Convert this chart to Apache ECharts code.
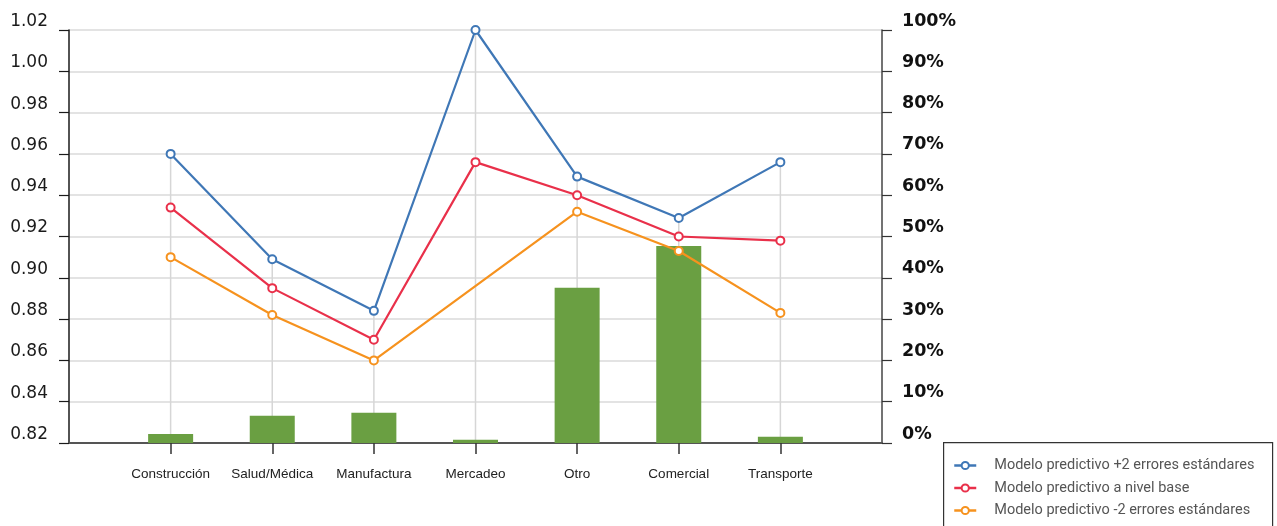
<!DOCTYPE html>
<html>
<head>
<meta charset="utf-8">
<script src="https://cdn.jsdelivr.net/npm/echarts@6/dist/echarts.min.js"></script>
<style>
  html, body { margin: 0; padding: 0; background: #ffffff; }
  #chart { width: 1277px; height: 526px; }
</style>
</head>
<body>
<div id="chart"></div>
<script>
// Sectors shown on the horizontal axis
const categories = ['Construcción', 'Salud/Médica', 'Manufactura', 'Mercadeo', 'Otro', 'Comercial', 'Transporte'];

// Model predictions (left axis)
const modeloMas2 = [0.960, 0.909, 0.884, 1.020, 0.949, 0.929, 0.956];
const modeloBase = [0.934, 0.895, 0.870, 0.956, 0.940, 0.920, 0.918];
const modeloMenos2 = [0.910, 0.882, 0.860, null, 0.932, 0.913, 0.883];

// Share per sector, in percent (right axis)
const participacion = [2.2, 6.6, 7.3, 0.8, 37.6, 47.7, 1.5];

// Axis ranges
const leftMin = 0.82, leftMax = 1.02, leftStep = 0.02;
const rightMin = 0, rightMax = 100, rightStep = 10;

const seriesNames = [
  'Modelo predictivo +2 errores estándares',
  'Modelo predictivo a nivel base',
  'Modelo predictivo -2 errores estándares'
];

// Empty slots at both ends keep the sectors off the vertical axes
const pad = arr => [null, ...arr, null];
const axisCats = ['', ...categories, ''];

const chart = echarts.init(document.getElementById('chart'), null, { renderer: 'canvas' });

const lineSeries = (name, data, color) => ({
  name,
  type: 'line',
  xAxisIndex: 0,
  yAxisIndex: 0,
  data: pad(data),
  connectNulls: true,
  symbol: 'emptyCircle',
  symbolSize: 8,
  lineStyle: { width: 2.2, color },
  itemStyle: { color, borderWidth: 2, borderColor: color },
  z: 5,
  animation: false
});

chart.setOption({
  animation: false,
  backgroundColor: '#ffffff',
  grid: { left: 69, right: 395, top: 30, bottom: 83 },
  xAxis: [
    {
      type: 'category',
      data: axisCats,
      boundaryGap: false,
      axisLine: { lineStyle: { color: '#555555', width: 2 } },
      axisTick: {
        length: 11,
        lineStyle: { color: '#333333', width: 1.5 },
        interval: (i, v) => v !== ''
      },
      axisLabel: {
        interval: 0,
        margin: 24,
        fontSize: 13.5,
        color: '#222222',
        fontFamily: "'Liberation Sans', sans-serif"
      },
      splitLine: { show: false }
    },
    {
      // hidden twin axis carrying the vertical drop lines
      type: 'category',
      data: axisCats,
      boundaryGap: false,
      show: false
    }
  ],
  yAxis: [
    {
      type: 'value',
      position: 'left',
      min: leftMin,
      max: leftMax,
      interval: leftStep,
      axisLine: { show: true, lineStyle: { color: '#1a1a1a', width: 1.5 } },
      axisTick: { show: true, length: 10, lineStyle: { color: '#1a1a1a', width: 1.2 } },
      axisLabel: {
        margin: 21,
        fontSize: 17,
        color: '#1a1a1a',
        verticalAlign: 'bottom',
        fontFamily: "'DejaVu Sans', sans-serif",
        formatter: v => v.toFixed(2)
      },
      splitLine: { show: true, lineStyle: { color: '#dadada', width: 1.5 } }
    },
    {
      type: 'value',
      position: 'right',
      min: rightMin,
      max: rightMax,
      interval: rightStep,
      axisLine: { show: true, lineStyle: { color: '#444444', width: 1.5 } },
      axisTick: { show: true, length: 10, lineStyle: { color: '#333333', width: 1.2 } },
      axisLabel: {
        margin: 20,
        fontSize: 17.5,
        fontWeight: 'bold',
        color: '#111111',
        verticalAlign: 'bottom',
        fontFamily: "'DejaVu Sans', sans-serif",
        formatter: '{value}%'
      },
      splitLine: { show: false }
    }
  ],
  legend: {
    orient: 'vertical',
    left: 953,
    top: 458,
    padding: 0,
    itemWidth: 22,
    itemHeight: 9,
    itemGap: 7.5,
    data: seriesNames,
    lineStyle: { width: 2.5 },
    textStyle: {
      fontSize: 14.5,
      lineHeight: 14,
      color: '#555555',
      fontFamily: "Roboto, 'Liberation Sans', sans-serif",
      padding: [0, 0, 0, 13]
    }
  },
  graphic: [
    {
      type: 'rect',
      left: 943,
      top: 442,
      shape: { width: 329, height: 120 },
      style: { fill: '#ffffff', stroke: '#333333', lineWidth: 1.2 },
      z: 1
    }
  ],
  series: [
    {
      // vertical drop lines from the highest estimate down to the axis
      type: 'bar',
      xAxisIndex: 1,
      yAxisIndex: 0,
      data: pad(modeloMas2),
      barWidth: 1.5,
      itemStyle: { color: '#d6d6d6' },
      silent: true,
      z: 1
    },
    {
      type: 'bar',
      xAxisIndex: 0,
      yAxisIndex: 1,
      data: pad(participacion),
      barWidth: 45,
      itemStyle: { color: '#6a9f42' },
      z: 2
    },
    lineSeries(seriesNames[0], modeloMas2, '#3f77b6'),
    lineSeries(seriesNames[1], modeloBase, '#e9304a'),
    lineSeries(seriesNames[2], modeloMenos2, '#f6921e')
  ]
});
</script>
</body>
</html>
